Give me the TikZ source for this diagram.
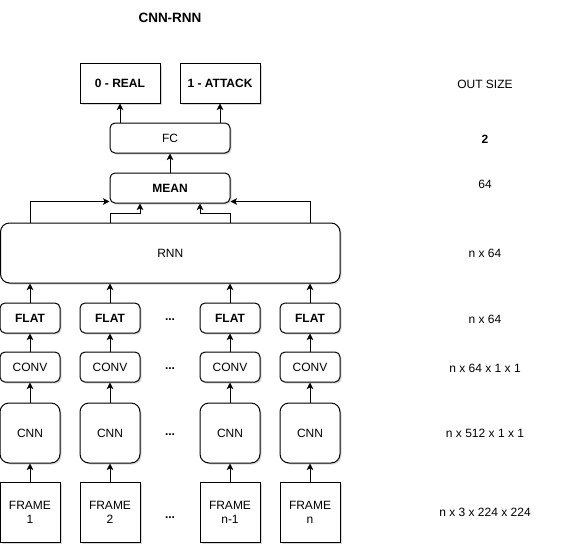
\documentclass[tikz,border=0pt]{standalone}
\usepackage{fontspec}
\setmainfont{Liberation Sans}
\usetikzlibrary{arrows.meta,shadows}
\begin{document}
\begin{tikzpicture}[x=1pt,y=-1pt,
  shad/.style={drop shadow={shadow xshift=1.5pt, shadow yshift=-1.5pt, opacity=0.25, fill=black!60}},
  box/.style={draw, line width=1pt, fill=white, minimum width=60pt, minimum height=30pt, inner sep=0pt, align=center, font=\fontsize{12}{14}\selectfont, shad},
  rbox/.style={box, rounded corners=5pt},
  bbox/.style={rbox, rounded corners=9pt, minimum height=60pt},
  bf/.style={font=\bfseries\fontsize{12}{14}\selectfont},
  arr/.style={-{Stealth[length=6.5pt,width=6.5pt,inset=1.5pt]}, line width=1pt},
  lbl/.style={font=\fontsize{12}{14}\selectfont, inner sep=0pt}
]
\useasboundingbox (0,0) rectangle (562,554);

\node[lbl, font=\bfseries\fontsize{13.5}{16}\selectfont] (title) at (170,18) {CNN-RNN};

\node[box, bf, minimum width=80pt, minimum height=40pt] (real) at (120,83) {0 - REAL};
\node[box, bf, minimum width=80pt, minimum height=40pt] (attack) at (220,83) {1 - ATTACK};
\node[rbox, minimum width=120pt] (fc) at (170,138) {FC};
\node[rbox, bf, minimum width=120pt] (mean) at (170,188) {MEAN};
\node[bbox, minimum width=339.5pt] (rnn) at (170.25,253) {RNN};

\draw[arr] (fc.north -| real) -- (real.south);
\draw[arr] (fc.north -| attack) -- (attack.south);
\draw[arr] (mean) -- (fc);

\foreach \i/\x/\f in {1/30/1, 2/110/2, 3/230/n-1, 4/310/n} {
  \node[box, minimum height=60pt] (frame\i) at (\x,512) {FRAME\\\f};
  \node[bbox] (cnn\i) at (\x,433) {CNN};
  \node[rbox] (conv\i) at (\x,367) {CONV};
  \node[rbox, bf] (flat\i) at (\x,318) {FLAT};
  \draw[arr] (frame\i) -- (cnn\i);
  \draw[arr] (cnn\i) -- (conv\i);
  \draw[arr] (conv\i) -- (flat\i);
  \draw[arr] (flat\i) -- (flat\i.north |- rnn.south);
}

\draw[arr] (rnn.north -| flat1) |- ([yshift=2pt]mean.south west);
\draw[arr] (rnn.north -| flat4) |- ([yshift=2pt]mean.south east);
\draw[arr] (rnn.north -| flat2) -- ++(0,-9) -| ([xshift=-30pt]mean.south);
\draw[arr] (rnn.north -| flat3) -- ++(0,-9) -| ([xshift=30pt]mean.south);

\node[lbl, bf] (d1) at (170,320) {...};
\node[lbl, bf] (d2) at (170,369) {...};
\node[lbl, bf] (d3) at (170,435) {...};
\node[lbl, bf] (d4) at (170,518) {...};

\node[lbl] (o0) at (485,84) {OUT SIZE};
\node[lbl, font=\bfseries\fontsize{12}{14}\selectfont] (o1) at (485,139) {2};
\node[lbl] (o2) at (485,184) {64};
\node[lbl] (o3) at (485,253) {n x 64};
\node[lbl] (o4) at (485,319) {n x 64};
\node[lbl] (o5) at (485,368) {n x 64 x 1 x 1};
\node[lbl] (o6) at (485,433) {n x 512 x 1 x 1};
\node[lbl] (o7) at (485,512) {n x 3 x 224 x 224};
\end{tikzpicture}
\end{document}
